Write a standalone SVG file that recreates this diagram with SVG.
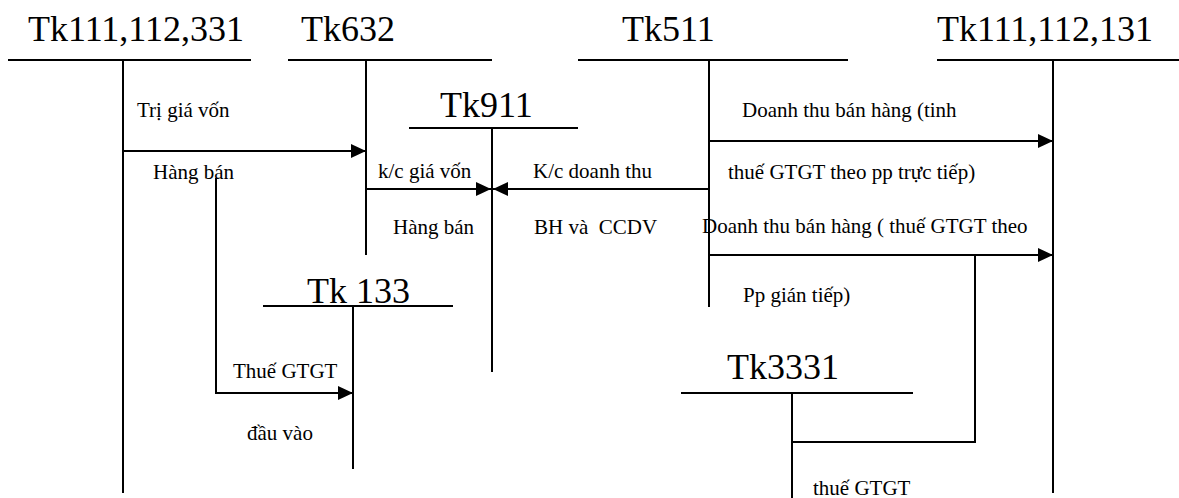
<svg xmlns="http://www.w3.org/2000/svg" width="1179" height="498" viewBox="0 0 1179 498">
<style>
text{fill:#000}
.big{font-size:36px}
.sm{font-size:21px}
.ln{stroke:#000;stroke-width:2;fill:none}
</style>
<defs>
<marker id="ah" markerUnits="userSpaceOnUse" markerWidth="16" markerHeight="14" refX="15" refY="7" orient="auto">
<path d="M0,0 L15,7 L0,14 Z" fill="#000"/>
</marker>
</defs>
<rect width="1179" height="498" fill="#fff"/>
<g font-family="Liberation Serif, Times New Roman, Times, DejaVu Serif, serif">
<g id="tk111_112_331">
<text class="big" x="28" y="41">Tk111,112,331</text>
<line class="ln" x1="8" y1="60" x2="251" y2="60"/>
<line class="ln" x1="123" y1="60" x2="123" y2="493"/>
</g>
<g id="tk632">
<text class="big" x="301" y="41">Tk632</text>
<line class="ln" x1="288" y1="60" x2="492" y2="60"/>
<line class="ln" x1="366" y1="60" x2="366" y2="255"/>
</g>
<g id="tk511">
<text class="big" x="622" y="41">Tk511</text>
<line class="ln" x1="578" y1="60" x2="848" y2="60"/>
<line class="ln" x1="709" y1="60" x2="709" y2="307"/>
</g>
<g id="tk111_112_131">
<text class="big" x="937" y="41">Tk111,112,131</text>
<line class="ln" x1="937" y1="60" x2="1179" y2="60"/>
<line class="ln" x1="1053" y1="60" x2="1053" y2="493"/>
</g>
<g id="tk911">
<text class="big" x="440" y="117">Tk911</text>
<line class="ln" x1="409" y1="128" x2="578" y2="128"/>
<line class="ln" x1="492" y1="128" x2="492" y2="372"/>
</g>
<g id="tk133">
<text class="big" x="307" y="303">Tk 133</text>
<line class="ln" x1="263" y1="306" x2="453" y2="306"/>
<line class="ln" x1="353" y1="306" x2="353" y2="469"/>
</g>
<g id="tk3331">
<text class="big" x="727" y="379">Tk3331</text>
<line class="ln" x1="681" y1="393" x2="913" y2="393"/>
<line class="ln" x1="792" y1="393" x2="792" y2="498"/>
</g>
<g id="connectors">
<line class="ln" x1="123" y1="151" x2="366" y2="151" marker-end="url(#ah)"/>
<line class="ln" x1="366" y1="189" x2="491" y2="189" marker-end="url(#ah)"/>
<line class="ln" x1="709" y1="189" x2="493" y2="189" marker-end="url(#ah)"/>
<line class="ln" x1="709" y1="141" x2="1053" y2="141" marker-end="url(#ah)"/>
<line class="ln" x1="709" y1="255" x2="1053" y2="255" marker-end="url(#ah)"/>
<polyline class="ln" points="216,178 216,393 353,393" marker-end="url(#ah)"/>
<polyline class="ln" points="975,255 975,442 792,442"/>
</g>
<g id="labels">
<text class="sm" x="137" y="117">Trị giá vốn</text>
<text class="sm" x="153" y="179">Hàng bán</text>
<text class="sm" x="378" y="178">k/c giá vốn</text>
<text class="sm" x="393" y="234">Hàng bán</text>
<text class="sm" x="533" y="178">K/c doanh thu</text>
<text class="sm" x="534" y="234" xml:space="preserve">BH và  CCDV</text>
<text class="sm" x="742" y="117">Doanh thu bán hàng (tinh</text>
<text class="sm" x="728" y="179">thuế GTGT theo pp trực tiếp)</text>
<text class="sm" x="702" y="233">Doanh thu bán hàng ( thuế GTGT theo</text>
<text class="sm" x="743" y="302">Pp gián tiếp)</text>
<text class="sm" x="233" y="378">Thuế GTGT</text>
<text class="sm" x="247" y="440">đầu vào</text>
<text class="sm" x="813" y="495">thuế GTGT</text>
</g>
</g>
</svg>
